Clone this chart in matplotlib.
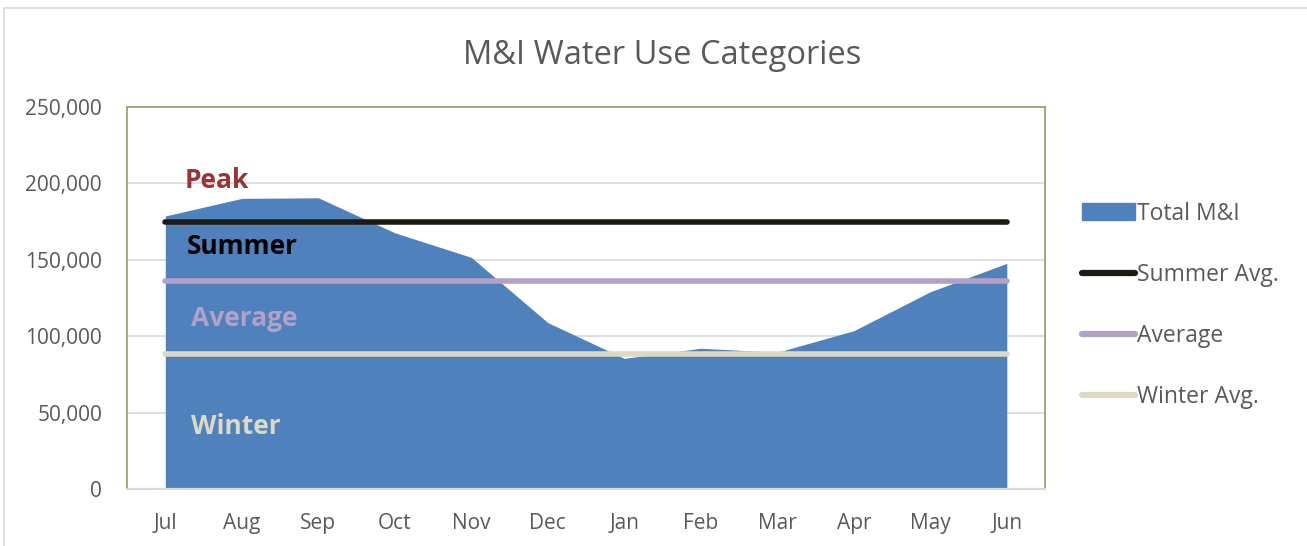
import matplotlib.pyplot as plt
import matplotlib.patches as mpatches
from matplotlib.lines import Line2D
from matplotlib.ticker import FuncFormatter

months = ["Jul", "Aug", "Sep", "Oct", "Nov", "Dec",
          "Jan", "Feb", "Mar", "Apr", "May", "Jun"]
total_mi = [178700, 190200, 190600, 167700, 151600, 108900,
            85500, 92100, 89500, 103600, 129100, 147700]
summer_avg = [175000] * 12
average = [136100] * 12
winter_avg = [88200] * 12

plt.rcParams["font.family"] = ["Open Sans", "DejaVu Sans"]
TXT = "#595959"

fig = plt.figure(figsize=(13.07, 5.46), dpi=100)
fig.patch.set_facecolor("white")
ax = fig.add_axes([0.0972, 0.1044, 0.7024, 0.6996])

x = list(range(len(months)))
ax.fill_between(x, 0, total_mi, color="#4F81BD", linewidth=0, zorder=2)
ax.plot(x, summer_avg, color="#1D1B11", lw=4, solid_capstyle="round", zorder=3)
ax.plot(x, average, color="#B3A2C7", lw=4, solid_capstyle="round", zorder=3)
ax.plot(x, winter_avg, color="#DDD9C3", lw=4, solid_capstyle="round", zorder=3)

ax.set_xlim(-0.5, 11.5)
ax.set_ylim(0, 250000)
ax.set_yticks(range(0, 250001, 50000))
ax.yaxis.set_major_formatter(FuncFormatter(lambda v, p: f"{int(v):,}"))
ax.set_xticks(x)
ax.set_xticklabels(months)
ax.tick_params(axis="both", length=0, labelsize=15, colors=TXT)
ax.tick_params(axis="x", pad=17)
ax.tick_params(axis="y", pad=18)
ax.grid(axis="y", color="#D9D9D9", lw=1.2, zorder=1)
ax.set_axisbelow(True)

for side in ["left", "top", "right"]:
    ax.spines[side].set_color("#A39E74")
    ax.spines[side].set_linewidth(1.3)
ax.spines["bottom"].set_color("#D9D9D9")
ax.spines["bottom"].set_linewidth(1.6)

# category labels inside the plot
ax.text(0.25, 202000, "Peak", color="#953735", fontsize=19, fontweight="bold",
        va="center", zorder=4)
ax.text(0.28, 158400, "Summer", color="black", fontsize=19, fontweight="bold",
        va="center", zorder=4)
ax.text(0.34, 111300, "Average", color="#B3A2C7", fontsize=19, fontweight="bold",
        va="center", zorder=4)
ax.text(0.34, 41200, "Winter", color="#DDD9C3", fontsize=19, fontweight="bold",
        va="center", zorder=4)

fig.text(0.507, 0.898, "M&I Water Use Categories", ha="center", va="center",
         fontsize=23.5, color=TXT)

handles = [
    mpatches.Patch(color="#4F81BD", label="Total M&I"),
    Line2D([], [], color="#1D1B11", lw=4.5, solid_capstyle="round", label="Summer Avg."),
    Line2D([], [], color="#B3A2C7", lw=4.5, solid_capstyle="round", label="Average"),
    Line2D([], [], color="#DDD9C3", lw=4.5, solid_capstyle="round", label="Winter Avg."),
]
leg = fig.legend(handles=handles, loc="center left", bbox_to_anchor=(0.821, 0.441),
                 frameon=False, fontsize=16.5, labelspacing=1.62, handlelength=2.3,
                 handletextpad=0.1, borderaxespad=0)
for t in leg.get_texts():
    t.set_color(TXT)

# outer chart border
fig.add_artist(mpatches.Rectangle((0.003, -0.01), 1.2, 0.995, transform=fig.transFigure,
                                  fill=False, edgecolor="#D9D9D9", lw=1.2))

fig.savefig("out.png", dpi=100)
